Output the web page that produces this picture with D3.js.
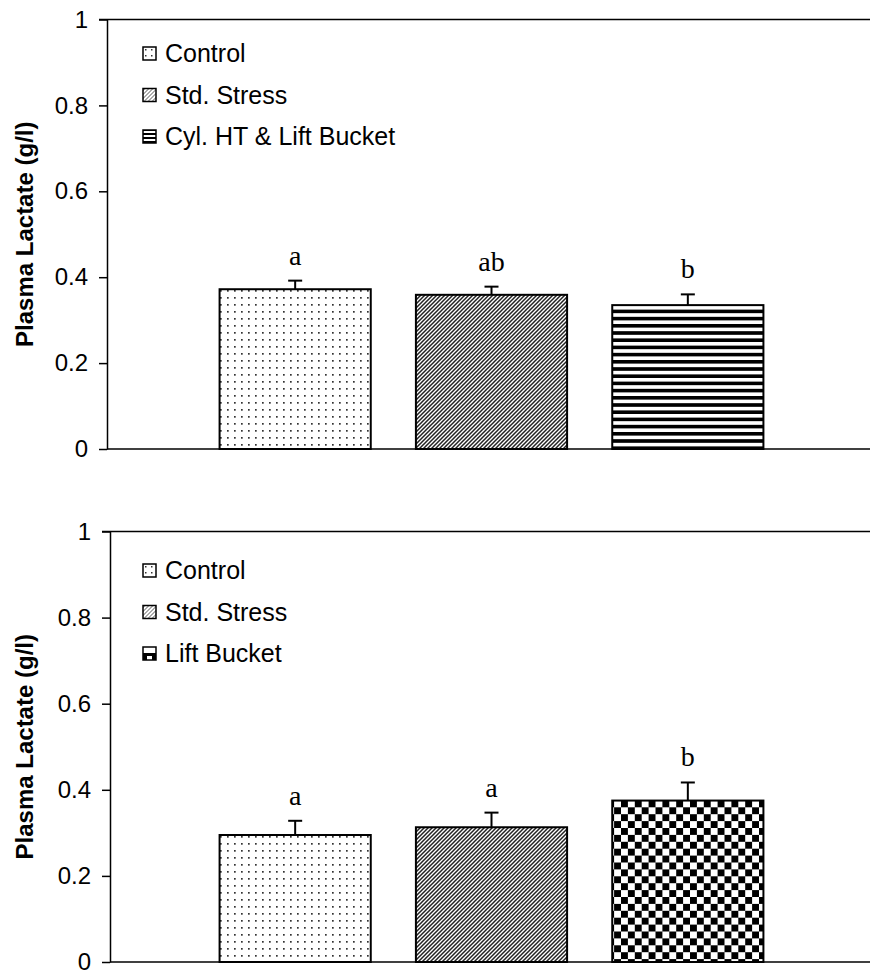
<!DOCTYPE html>
<html>
<head>
<meta charset="utf-8">
<script src="https://cdn.jsdelivr.net/npm/d3@7"></script>
<style>
  body { margin: 0; background: #fff; }
  svg { display: block; }
</style>
</head>
<body>
<svg id="chart" width="870" height="971"></svg>
<script>
// ---------- data ----------
const categories = ["Control", "Std. Stress", "Treatment"];
const yTicks = [0, 0.2, 0.4, 0.6, 0.8, 1];
const yTickLabels = ["0", "0.2", "0.4", "0.6", "0.8", "1"];
const yTitle = "Plasma Lactate (g/l)";

const topLegend = ["Control", "Std. Stress", "Cyl. HT & Lift Bucket"];
const topMeans = [0.372, 0.359, 0.335];
const topErrors = [0.020, 0.019, 0.025];
const topLetters = ["a", "ab", "b"];
const topPatterns = ["dots", "diag", "hstripe"];

const botLegend = ["Control", "Std. Stress", "Lift Bucket"];
const botMeans = [0.295, 0.313, 0.375];
const botErrors = [0.033, 0.034, 0.042];
const botLetters = ["a", "a", "b"];
const botPatterns = ["dots", "diag", "check"];

// ---------- setup ----------
const svg = d3.select("#chart");
const defs = svg.append("defs");

// dots
const pDots = defs.append("pattern").attr("id", "dots").attr("patternUnits", "userSpaceOnUse")
  .attr("width", 7).attr("height", 7);
pDots.append("rect").attr("width", 7).attr("height", 7).attr("fill", "#fff");
pDots.append("rect").attr("x", 3).attr("y", 3).attr("width", 1.7).attr("height", 1.7).attr("fill", "#333");

// diagonal "/"
const pDiag = defs.append("pattern").attr("id", "diag").attr("patternUnits", "userSpaceOnUse")
  .attr("width", 4).attr("height", 4);
pDiag.append("rect").attr("width", 4).attr("height", 4).attr("fill", "#fff");
pDiag.append("path").attr("d", "M-1,1 L1,-1 M0,4 L4,0 M3,5 L5,3")
  .attr("stroke", "#222").attr("stroke-width", 1.5);

// horizontal stripes
const pH = defs.append("pattern").attr("id", "hstripe").attr("patternUnits", "userSpaceOnUse")
  .attr("width", 8).attr("height", 7.2);
pH.append("rect").attr("width", 8).attr("height", 7.2).attr("fill", "#fff");
pH.append("rect").attr("y", 0).attr("width", 8).attr("height", 3.6).attr("fill", "#000");

// checkerboard
const pC = defs.append("pattern").attr("id", "check").attr("patternUnits", "userSpaceOnUse")
  .attr("width", 13.8).attr("height", 13.8);
pC.append("rect").attr("width", 13.8).attr("height", 13.8).attr("fill", "#fff");
pC.append("rect").attr("x", 0).attr("y", 0).attr("width", 6.9).attr("height", 6.9).attr("fill", "#000");
pC.append("rect").attr("x", 6.9).attr("y", 6.9).attr("width", 6.9).attr("height", 6.9).attr("fill", "#000");

// small legend-symbol patterns
const lDots = defs.append("pattern").attr("id", "ldots").attr("patternUnits", "userSpaceOnUse")
  .attr("width", 6).attr("height", 6);
lDots.append("rect").attr("width", 6).attr("height", 6).attr("fill", "#fff");
lDots.append("rect").attr("x", 2).attr("y", 2).attr("width", 1.5).attr("height", 1.5).attr("fill", "#333");

const lDiag = defs.append("pattern").attr("id", "ldiag").attr("patternUnits", "userSpaceOnUse")
  .attr("width", 4).attr("height", 4);
lDiag.append("rect").attr("width", 4).attr("height", 4).attr("fill", "#fff");
lDiag.append("path").attr("d", "M-1,1 L1,-1 M0,4 L4,0 M3,5 L5,3")
  .attr("stroke", "#555").attr("stroke-width", 1);

const lCheck = defs.append("pattern").attr("id", "lcheck").attr("patternUnits", "userSpaceOnUse")
  .attr("width", 14).attr("height", 14);
lCheck.append("rect").attr("width", 14).attr("height", 14).attr("fill", "#fff");
lCheck.append("rect").attr("x", 0).attr("y", 0).attr("width", 14).attr("height", 7).attr("fill", "#000");
lCheck.append("rect").attr("x", 4).attr("y", 3).attr("width", 5).attr("height", 4).attr("fill", "#fff");

const lH = defs.append("pattern").attr("id", "lhstripe").attr("patternUnits", "userSpaceOnUse")
  .attr("width", 4).attr("height", 4);
lH.append("rect").attr("width", 4).attr("height", 4).attr("fill", "#fff");
lH.append("rect").attr("y", 1).attr("width", 4).attr("height", 2).attr("fill", "#000");

const legendPat = { dots: "ldots", diag: "ldiag", hstripe: "lhstripe", check: "lcheck" };

function panel(cfg) {
  const { top, bottom, axisX, legend, means, errors, letters, patterns, legendY } = cfg;
  const right = 870;
  const y = d3.scaleLinear().domain([0, 1]).range([bottom, top]);
  const x = d3.scaleBand().domain(categories).range([197, 786]).paddingInner(0.23).paddingOuter(0.115);

  const g = svg.append("g");

  const data = categories.map((c, i) => ({ c, m: means[i], e: errors[i], l: letters[i], p: patterns[i] }));

  // error bars
  const eb = g.selectAll(".err").data(data).enter().append("g");
  eb.append("line")
    .attr("x1", d => x(d.c) + x.bandwidth() / 2).attr("x2", d => x(d.c) + x.bandwidth() / 2)
    .attr("y1", d => y(d.m)).attr("y2", d => y(d.m + d.e))
    .attr("stroke", "#000").attr("stroke-width", 2);
  eb.append("line")
    .attr("x1", d => x(d.c) + x.bandwidth() / 2 - 7).attr("x2", d => x(d.c) + x.bandwidth() / 2 + 7)
    .attr("y1", d => y(d.m + d.e)).attr("y2", d => y(d.m + d.e))
    .attr("stroke", "#000").attr("stroke-width", 2);

  // bars
  g.selectAll(".bar").data(data).enter().append("rect")
    .attr("x", d => x(d.c)).attr("width", x.bandwidth())
    .attr("y", d => y(d.m)).attr("height", d => y(0) - y(d.m))
    .attr("fill", d => `url(#${d.p})`)
    .attr("stroke", "#000").attr("stroke-width", 2);

  // letters
  g.selectAll(".let").data(data).enter().append("text")
    .attr("x", d => x(d.c) + x.bandwidth() / 2)
    .attr("y", d => y(d.m + d.e) - 16)
    .attr("text-anchor", "middle")
    .attr("font-family", "'Liberation Serif', 'Times New Roman', serif")
    .attr("font-size", 28)
    .text(d => d.l);

  // axes
  const yAxis = d3.axisLeft(y).tickValues(yTicks).tickFormat((d, i) => yTickLabels[i])
    .tickSize(8).tickSizeOuter(0).tickPadding(11);
  const ag = g.append("g").attr("transform", `translate(${axisX},0)`).call(yAxis);
  ag.select(".domain").attr("stroke", "#000").attr("stroke-width", 1.5);
  ag.selectAll(".tick line").attr("stroke", "#000").attr("stroke-width", 1.5);
  ag.selectAll(".tick text").attr("font-family", "'Liberation Sans', Arial, sans-serif")
    .attr("font-size", 24).attr("fill", "#000");

  // x axis baseline and top frame line
  g.append("line").attr("x1", axisX).attr("x2", right).attr("y1", y(0)).attr("y2", y(0))
    .attr("stroke", "#000").attr("stroke-width", 1.5);
  g.append("line").attr("x1", axisX - 8).attr("x2", right).attr("y1", y(1)).attr("y2", y(1))
    .attr("stroke", "#000").attr("stroke-width", 1.5);

  // y title
  g.append("text")
    .attr("transform", `translate(33,${(top + bottom) / 2}) rotate(-90)`)
    .attr("text-anchor", "middle")
    .attr("font-family", "'Liberation Sans', Arial, sans-serif")
    .attr("font-weight", "bold").attr("font-size", 24)
    .text(yTitle);

  // legend
  const lg = g.selectAll(".leg").data(legend).enter().append("g")
    .attr("transform", (d, i) => `translate(143,${legendY + i * 41.5})`);
  lg.append("rect").attr("x", 0).attr("y", -6).attr("width", 13).attr("height", 13)
    .attr("fill", (d, i) => `url(#${legendPat[patterns[i]]})`)
    .attr("stroke", "#000").attr("stroke-width", 1.5);
  lg.append("text").attr("x", 22).attr("y", 9)
    .attr("font-family", "'Liberation Sans', Arial, sans-serif")
    .attr("font-size", 25).text(d => d);
}

panel({ top: 19.5, bottom: 449, axisX: 107, legend: topLegend, means: topMeans, errors: topErrors,
        letters: topLetters, patterns: topPatterns, legendY: 53 });
panel({ top: 531.5, bottom: 962, axisX: 110, legend: botLegend, means: botMeans, errors: botErrors,
        letters: botLetters, patterns: botPatterns, legendY: 570 });
</script>
</body>
</html>
